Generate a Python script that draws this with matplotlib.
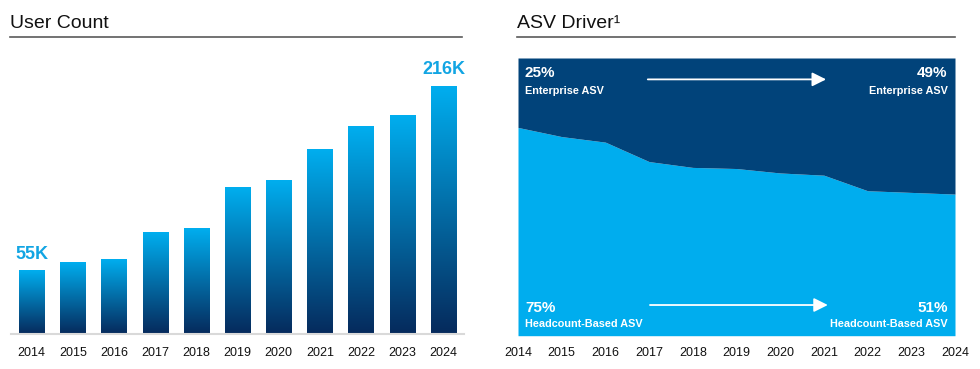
import matplotlib.pyplot as plt
import numpy as np
from matplotlib.colors import LinearSegmentedColormap
from matplotlib.lines import Line2D

plt.rcParams['font.family'] = ['Liberation Sans', 'DejaVu Sans']

years = [2014, 2015, 2016, 2017, 2018, 2019, 2020, 2021, 2022, 2023, 2024]
# user count, thousands
users = [55, 62.4, 65.3, 88.8, 91.7, 127.2, 133.5, 161.1, 180.5, 190.4, 216]
# share of ASV that is headcount-based, %
headcount = [75, 71.7, 69.7, 62.7, 60.6, 60.2, 58.6, 57.8, 52.2, 51.6, 51]
enterprise = [100 - h for h in headcount]

NAVY = '#062a5c'
CYAN = '#00aeef'
DARK = '#01437a'
LIGHT = '#00adee'

fig = plt.figure(figsize=(9.8, 3.69), dpi=100)


def header(x0, x1, text):
    fig.text(x0, 1 - 28 / 369, text, fontsize=14, color='#111111', va='baseline', ha='left')
    fig.add_artist(Line2D([x0, x1], [1 - 37 / 369, 1 - 37 / 369], color='#5a5a5a', lw=1.2))


def grafico_usuarios():
    ax = fig.add_axes([11 / 980, 1 - 334.3 / 369, 453 / 980, (334.3 - 58) / 369])
    cmap = LinearSegmentedColormap.from_list('grad', [NAVY, CYAN])
    grad = np.linspace(0, 1, 256).reshape(-1, 1)
    w = 0.61
    for i, v in enumerate(users):
        ax.imshow(grad, cmap=cmap, origin='lower', aspect='auto',
                  extent=(i - w / 2, i + w / 2, 0, v), interpolation='bicubic')
    ax.set_xlim(-0.5, len(years) - 0.5)
    ax.set_ylim(0, 240.7)
    ax.axhline(0, color='#d9d9d9', lw=1.5, clip_on=False)
    ax.set_xticks(range(len(years)), [str(y) for y in years])
    ax.tick_params(axis='x', length=0, pad=9, labelsize=9, colors='#111111')
    ax.set_yticks([])
    for s in ax.spines.values():
        s.set_visible(False)
    for i in (0, len(users) - 1):
        ax.annotate(f"{users[i]:.0f}K", (i, users[i]), xytext=(0, 9), textcoords='offset points',
                    ha='center', va='baseline', fontsize=13, fontweight='bold', color='#12a5e3')


def grafico_asv():
    ax = fig.add_axes([518 / 980, 1 - 335.7 / 369, 437 / 980, 277.7 / 369])
    ax.fill_between(years, 0, headcount, color=LIGHT, lw=0)
    ax.fill_between(years, headcount, 100, color=DARK, lw=0)
    ax.set_xlim(years[0], years[-1])
    ax.set_ylim(0, 100)
    ax.set_xticks(years, [str(y) for y in years])
    ax.tick_params(axis='x', length=0, pad=8, labelsize=9, colors='#111111')
    ax.set_yticks([])
    for s in ax.spines.values():
        s.set_visible(False)

    t = ax.transAxes
    big = dict(fontsize=11, fontweight='bold', color='white', transform=t, va='baseline')
    small = dict(fontsize=7.8, fontweight='bold', color='white', transform=t, va='baseline')
    ax.text(0.016, 0.9316, f"{enterprise[0]:.0f}%", ha='left', **big)
    ax.text(0.016, 0.870, "Enterprise ASV", ha='left', **small)
    ax.text(0.983, 0.9316, f"{enterprise[-1]:.0f}%", ha='right', **big)
    ax.text(0.983, 0.870, "Enterprise ASV", ha='right', **small)
    ax.text(0.016, 0.0843, f"{headcount[0]:.0f}%", ha='left', **big)
    ax.text(0.016, 0.0324, "Headcount-Based ASV", ha='left', **small)
    ax.text(0.983, 0.0843, f"{headcount[-1]:.0f}%", ha='right', **big)
    ax.text(0.983, 0.0324, "Headcount-Based ASV", ha='right', **small)

    arrow = dict(arrowstyle='-|>,head_length=0.6,head_width=0.3', color='white', lw=1.3,
                 mutation_scale=14, shrinkA=0, shrinkB=0)
    ax.annotate('', xy=(0.705, 0.923), xytext=(0.297, 0.923), xycoords=t, textcoords=t, arrowprops=arrow)
    ax.annotate('', xy=(0.709, 0.1105), xytext=(0.302, 0.1105), xycoords=t, textcoords=t, arrowprops=arrow)


header(10 / 980, 462 / 980, "User Count")
header(517 / 980, 955 / 980, "ASV Driver\u00b9")
grafico_usuarios()
grafico_asv()
fig.savefig("out.png", dpi=100)
